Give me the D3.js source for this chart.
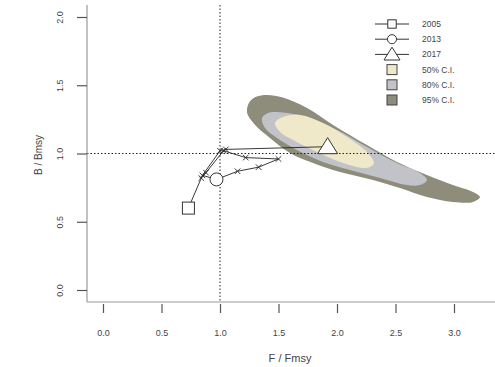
<!DOCTYPE html>
<html>
<head>
<meta charset="utf-8">
<script src="https://cdn.jsdelivr.net/npm/d3@7"></script>
<style>
  body { margin: 0; background: #fff; }
  text { font-family: "Liberation Sans", Arial, sans-serif; fill: #444; }
</style>
</head>
<body>
<svg id="chart" width="495" height="367"></svg>
<script>
// trajectory of stock status, one point per year
var years = [2005, 2006, 2007, 2008, 2009, 2010, 2011, 2012, 2013, 2014, 2015, 2016, 2017];
var fRatio = [0.73, 0.84, 0.88, 1.03, 1.22, 1.50, 1.33, 1.15, 0.97, 0.85, 1.00, 1.05, 1.92];
var bRatio = [0.60, 0.82, 0.86, 1.02, 0.97, 0.96, 0.90, 0.87, 0.81, 0.84, 1.02, 1.03, 1.05];

// confidence region outlines for the final year, [F/Fmsy, B/Bmsy]
var ci95 = [[1.231,1.300],[1.248,1.372],[1.308,1.415],[1.402,1.429],[1.538,1.410],[1.744,1.333],[1.966,1.209],
  [2.256,1.062],[2.513,0.938],[2.769,0.842],[2.991,0.769],[3.162,0.718],[3.222,0.681],[3.162,0.645],
  [2.991,0.645],[2.769,0.681],[2.538,0.747],[2.308,0.806],[2.026,0.864],[1.795,0.930],[1.598,1.004],
  [1.427,1.114],[1.325,1.187],[1.265,1.245]];
var ci80 = [[1.359,1.260],[1.410,1.297],[1.487,1.304],[1.744,1.267],[2.000,1.172],[2.256,1.048],
  [2.513,0.930],[2.709,0.857],[2.769,0.806],[2.709,0.769],[2.598,0.769],[2.368,0.821],[2.111,0.879],
  [1.880,0.938],[1.658,1.026],[1.487,1.114],[1.385,1.187]];
var ci50 = [[1.470,1.223],[1.538,1.267],[1.684,1.282],[1.880,1.223],[2.085,1.121],[2.256,1.011],
  [2.316,0.930],[2.282,0.901],[2.222,0.894],[2.026,0.938],[1.829,1.011],[1.624,1.099],[1.513,1.158]];

var xTicks = [0, 0.5, 1, 1.5, 2, 2.5, 3];
var yTicks = [0, 0.5, 1, 1.5, 2];
var legendYears = ["2005", "2013", "2017"];
var legendCI = ["50% C.I.", "80% C.I.", "95% C.I."];
var ciColors = ["#efe9c9", "#c2c2c9", "#8e8c7a"];

var svg = d3.select("#chart");
var x = d3.scaleLinear().domain([0, 1]).range([103, 220]);
var y = d3.scaleLinear().domain([0, 2]).range([290, 17]);

// confidence regions, widest first
var area = d3.line().x(function(d){ return x(d[0]); }).y(function(d){ return y(d[1]); })
  .curve(d3.curveCatmullRomClosed.alpha(0.5));
[ci95, ci80, ci50].forEach(function(poly, i){
  svg.append("path").attr("d", area(poly)).attr("fill", ciColors[2 - i]).attr("stroke", "none");
});

// reference lines at Fmsy and Bmsy
svg.append("line").attr("x1", x(1)).attr("x2", x(1)).attr("y1", 5).attr("y2", 302)
  .attr("stroke", "#222").attr("stroke-width", 1).attr("stroke-dasharray", "1.5,2");
svg.append("line").attr("x1", 87).attr("x2", 495).attr("y1", y(1)).attr("y2", y(1))
  .attr("stroke", "#222").attr("stroke-width", 1).attr("stroke-dasharray", "1.5,2");

// axes (R style, L shaped)
svg.append("line").attr("x1", 87).attr("x2", 87).attr("y1", 5).attr("y2", 302)
  .attr("stroke", "#999").attr("stroke-width", 1.2);
svg.append("line").attr("x1", 87).attr("x2", 495).attr("y1", 302).attr("y2", 302)
  .attr("stroke", "#999").attr("stroke-width", 1.2);

var xAxis = svg.append("g").attr("transform", "translate(0,304)")
  .call(d3.axisBottom(x).tickValues(xTicks).tickSize(9).tickFormat(d3.format(".1f")));
xAxis.select(".domain").remove();
xAxis.selectAll("line").attr("stroke", "#555").attr("stroke-width", 1.2);
xAxis.selectAll("text").attr("y", 29).attr("dy", "0.32em").attr("font-size", 9).attr("fill", "#555");

var yAxis = svg.append("g").attr("transform", "translate(87,0)")
  .call(d3.axisLeft(y).tickValues(yTicks).tickSize(10).tickFormat(d3.format(".1f")));
yAxis.select(".domain").remove();
yAxis.selectAll("line").attr("stroke", "#555").attr("stroke-width", 1.2);
yAxis.selectAll("text")
  .attr("x", 0).attr("dy", null)
  .attr("transform", "translate(-27,0) rotate(-90)")
  .attr("text-anchor", "middle").attr("dominant-baseline", "central")
  .attr("font-size", 9).attr("fill", "#555");

svg.append("text").attr("x", 290).attr("y", 358).attr("text-anchor", "middle")
  .attr("dominant-baseline", "central").attr("font-size", 11).text("F / Fmsy");
svg.append("text").attr("transform", "translate(38,155) rotate(-90)").attr("text-anchor", "middle")
  .attr("dominant-baseline", "central").attr("font-size", 10).text("B / Bmsy");

// trajectory
var pts = years.map(function(yr, i){ return {year: yr, f: fRatio[i], b: bRatio[i]}; });
var traj = d3.line().x(function(d){ return x(d.f); }).y(function(d){ return y(d.b); });
svg.append("path").attr("d", traj(pts)).attr("fill", "none").attr("stroke", "#222").attr("stroke-width", 0.9);

var cross = d3.symbol().type(d3.symbolX).size(22);
svg.selectAll(".pt").data(pts.filter(function(d){ return legendYears.indexOf(String(d.year)) < 0; }))
  .enter().append("path").attr("class", "pt")
  .attr("transform", function(d){ return "translate(" + x(d.f) + "," + y(d.b) + ")"; })
  .attr("d", cross).attr("fill", "none").attr("stroke", "#222").attr("stroke-width", 0.9);

function drawMarker(g, yr, cx, cy, scale) {
  if (yr === "2005") {
    g.append("rect").attr("x", cx - 6 * scale).attr("y", cy - 6 * scale)
      .attr("width", 12 * scale).attr("height", 12 * scale);
  } else if (yr === "2013") {
    g.append("circle").attr("cx", cx).attr("cy", cy).attr("r", 6.5 * scale);
  } else {
    g.append("path").attr("d", "M" + cx + "," + (cy - 9 * scale) +
      "L" + (cx + 10 * scale) + "," + (cy + 7 * scale) + "L" + (cx - 10 * scale) + "," + (cy + 7 * scale) + "Z");
  }
}
var markers = svg.append("g").attr("fill", "#fff").attr("stroke", "#333").attr("stroke-width", 1);
pts.forEach(function(d){
  var yr = String(d.year);
  if (legendYears.indexOf(yr) >= 0) drawMarker(markers, yr, x(d.f), y(d.b), 1);
});

// legend
var lg = svg.append("g");
var rowY = d3.scalePoint().domain(legendYears.concat(legendCI)).range([24, 100]);
legendYears.forEach(function(yr){
  var ry = rowY(yr);
  lg.append("line").attr("x1", 375).attr("x2", 409).attr("y1", ry).attr("y2", ry)
    .attr("stroke", "#333").attr("stroke-width", 1);
  var g = lg.append("g").attr("fill", "#fff").attr("stroke", "#333").attr("stroke-width", 1);
  drawMarker(g, yr, 392, ry, yr === "2017" ? 0.8 : 0.7);
  lg.append("text").attr("x", 422).attr("y", ry).attr("dominant-baseline", "central")
    .attr("font-size", 8.5).text(yr);
});
legendCI.forEach(function(lab, i){
  var ry = rowY(lab);
  lg.append("rect").attr("x", 387).attr("y", ry - 5).attr("width", 10).attr("height", 10)
    .attr("fill", ciColors[i]).attr("stroke", "#444").attr("stroke-width", 1);
  lg.append("text").attr("x", 422).attr("y", ry).attr("dominant-baseline", "central")
    .attr("font-size", 8.5).text(lab);
});
</script>
</body>
</html>
